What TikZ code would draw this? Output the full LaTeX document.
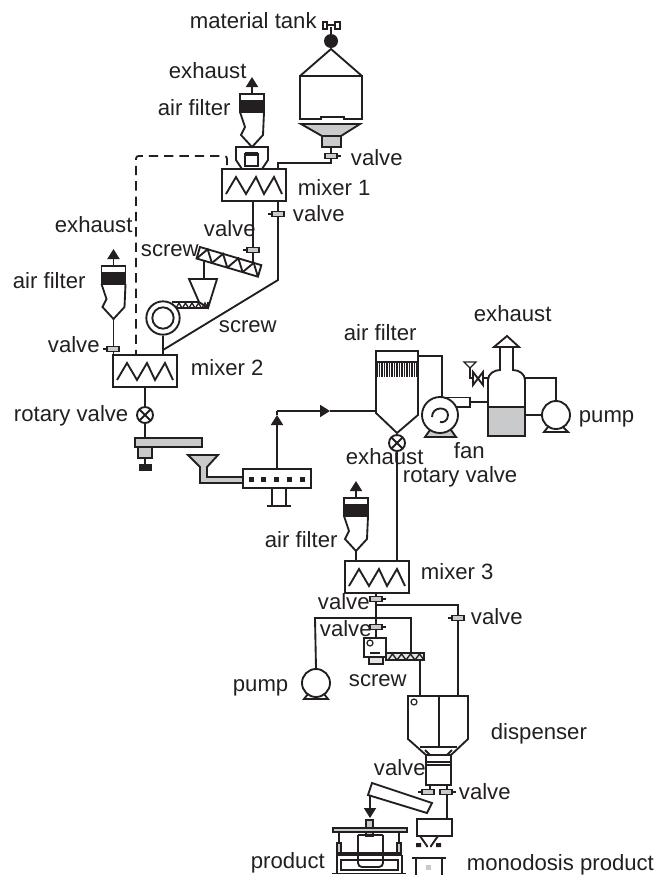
\documentclass[tikz,border=0pt]{standalone}
\usepackage{fontspec}
\setmainfont{Liberation Sans}
\usetikzlibrary{arrows.meta}
\definecolor{partgray}{HTML}{C8CACC}
\definecolor{inkblack}{HTML}{231F20}
\begin{document}
\begin{tikzpicture}
   [x=0.75pt, y=-0.75pt, line width=1.4pt, draw=inkblack, text=inkblack,
    lbl/.style={anchor=base west, inner sep=0pt, font=\fontsize{16.6}{18}\selectfont},
    mixer node/.style={rectangle, draw, minimum width=48pt, minimum height=24pt, inner sep=0pt},
    rotary node/.style={circle, draw, fill=white, minimum size=12pt, inner sep=0pt,
      path picture={\draw (path picture bounding box.north west) -- (path picture bounding box.south east)
        (path picture bounding box.north east) -- (path picture bounding box.south west);}},
    pump node/.style={circle, draw, fill=white, minimum size=21pt, inner sep=0pt},
    head/.style={-{Triangle[length=7.5pt,width=9pt]}},
    valve right/.pic={
      \draw (6,0) -- (10,0);
      \draw[fill=partgray] (-6,-2.5) rectangle (6,2.5);},
    valve left/.pic={
      \draw (-6,0) -- (-10,0);
      \draw[fill=partgray] (-6,-2.5) rectangle (6,2.5);},
    air filter/.pic={
      \draw[head] (0,0) -- (0,-17);
      \draw (-12,0) rectangle (12,7);
      \draw[fill=inkblack] (-12,7) rectangle (12,18);
      \draw (-12,18) -- (-7,33) -- (-11,41) -- (0,53) -- (11,41) -- (12,18);
      \coordinate (-tip) at (0,53);}]

   % frame of the page
   \useasboundingbox (0,0) rectangle (654,875);

   % ---------- material tank ----------
   \node[circle, fill=inkblack, minimum size=10.5pt, inner sep=0pt] (ball) at (331,41) {};
   \coordinate (apex) at (331,49);
   \draw (331,34) -- (331,27) (322,25) -- (341,25);
   \draw[fill=white, line width=1pt] (323,22) rectangle (327,29) (335,22) rectangle (340,29);
   \draw (ball) -- (apex);
   \draw (300,76) -- (apex) -- (362,76);
   \draw (300,76) -- (362,76) -- (362,119) -- (344,119) -- (344,117) -- (321,117) -- (321,119) -- (300,119) -- cycle;
   \draw[fill=partgray] (301,124) -- (360,124) -- (341,136) -- (322,136) -- cycle;
   \draw[fill=partgray] (322,136) rectangle (341,147);
   \coordinate (tank out) at (331,147);

   % ---------- mixer 1 and its hood ----------
   \node[mixer node] (m1) at (254,185) {};
   \node[mixer node] (m2) at (145,371) {};
   \node[mixer node] (m3) at (377,577) {};
   \foreach \m in {m1,m2,m3}
      \draw (\m.center) ++(-28,9) -- ++(10,-17) -- ++(10,17) -- ++(10,-17) -- ++(8,17) -- ++(10,-17) -- ++(8,17);

   \draw (242,169) -- (236,160) -- (236,147) -- (268,147) -- (268,160) -- (262,169);
   \draw (245,154) rectangle (258,166);
   \draw[line width=2.4pt] (245,154) -- (258,154);
   \pic (fa) at (252,94) {air filter};

   \coordinate (c1) at (278,163);
   \draw (tank out) -- (331,163) -- (c1) -- (c1 |- m1.north);
   \pic at (331,156) {valve right};

   % ---------- dashed return line ----------
   \coordinate (d1) at (227,165);
   \draw[dash pattern=on 7pt off 4.5pt, rounded corners=2pt] (d1) -- (227,156) -- (136,156) -- (136,355);

   % ---------- screw between mixer 1 and mixer 2 ----------
   \begin{scope}[shift={(200,247)}, rotate=-16.5]
      \draw (0,0) rectangle (64,12);
      \foreach \i in {0,...,3}
         \draw (16*\i,12) -- (16*\i+8,0) -- (16*\i+16,12);
   \end{scope}
   \coordinate (s1) at (253,263);
   \draw (253,201) -- (s1);
   \pic at (253,250) {valve left};

   \coordinate (bend) at (278,280);
   \coordinate (m2 in) at (163,350);
   \draw (278,201) -- (bend) -- (m2 in);
   \pic at (278,214) {valve left};

   \draw (204,261) -- (204,279);
   \draw (189,279) -- (217,279) -- (208,308) -- (199,302) -- cycle;
   \draw (172,302) -- (199,302) (172,308) -- (208,308) -- (208,302);
   \foreach \i in {0,1,2,3,4}
      \draw[line width=1pt] (176+6.5*\i,308) -- (179+6.5*\i,303) -- (182+6.5*\i,308);
   \node[circle, draw, fill=white, minimum size=25pt, inner sep=0pt] (feed) at (163,318) {};
   \node[circle, draw, minimum size=16pt, inner sep=0pt] (feed in) at (163,318) {};
   \draw (feed) -- (feed |- m2.north);

   % ---------- air filter on mixer 2 ----------
   \pic (fb) at (113.5,266) {air filter};
   \draw (fb-tip) -- (fb-tip |- m2.north);
   \pic at (113,349) {valve left};

   % ---------- rotary valve and conveyor ----------
   \node[rotary node] (rv1) at (145,415) {};
   \coordinate (bar) at (145,438);
   \draw (m2) -- (rv1);
   \draw (rv1) -- (bar);
   \draw[fill=partgray] (135,438) rectangle (202,447);
   \draw[fill=partgray] (138,447) rectangle (152,458);
   \draw (145,458) -- (145,465);
   \draw[fill=inkblack] (140,465) rectangle (151,470);

   \draw[fill=partgray] (188,455) -- (218,455) -- (207,467) -- (207,477) -- (243,477) -- (243,483) -- (200,483) -- (200,467) -- cycle;

   % ---------- extruder ----------
   \node[rectangle, draw, fill=white, minimum width=51pt, minimum height=14.25pt, inner sep=0pt] (ext) at (277,478.5) {};
   \foreach \x in {251,263,276,289,302}
      \fill[inkblack] (\x-2.5,476.5) rectangle (\x+2.5,481.5);
   \draw (272,488) -- (272,506) (286,488) -- (286,506) (267,506) -- (291,506);
   \coordinate (up) at (277,415);
   \coordinate (turn) at (277,411);
   \coordinate (arr) at (330,411);
   \coordinate (fc in) at (376,411);
   \draw[head] (ext.north -| up) -- (up);
   \draw (up) -- (turn);
   \draw[head] (turn) -- (arr);
   \draw (arr) -- (fc in);

   % ---------- big air filter ----------
   \foreach \x in {377,379.5,...,417}
      \draw[line width=0.9pt] (\x,362) -- (\x,377);
   \draw (376,351) rectangle (418,362);
   \draw (376,362) -- (376,413) -- (397,433) -- (418,415) -- (418,362);
   \node[rotary node] (rv2) at (397,443) {};
   \draw (rv2) -- (rv2 |- m3.north);

   % ---------- fan ----------
   \draw (418,356) -- (442,356) -- (442,397);
   \draw[fill=partgray] (430,430) -- (451,430) -- (456,437) -- (425,437) -- cycle;
   \node[circle, draw, fill=white, minimum size=27pt, inner sep=0pt] (fan) at (440,415) {};
   \draw (440,397.5) -- (470,397.5) -- (470,407) -- (456,407);
   \draw (432,417) .. controls (432,406) and (448,406) .. (448,415) .. controls (448,421) and (443,423) .. (440,422);
   \coordinate (fan out) at (470,402);

   % ---------- scrubber vessel ----------
   \fill[partgray] (488,407) rectangle (525,436);
   \draw (500,347) -- (500,370) .. controls (494,370) and (488,374) .. (488,380) -- (488,436) -- (525,436) -- (525,380) .. controls (525,374) and (519,370) .. (513,370) -- (513,347);
   \draw (488,407) -- (525,407);
   \draw (494,347) -- (507,336) -- (519,347) -- cycle;
   \draw (fan out) -- (488,402);
   \draw (473,372) -- (483,385) -- (483,372) -- (473,385) -- cycle;
   \draw (483,378) -- (488,378);
   \draw (473,378) -- (470,378) -- (470,367);
   \draw[line width=1pt] (464,362) -- (476,362) -- (470,368) -- cycle;

   \node[pump node] (p1) at (556,415) {};
   \draw (525,378) -- (556,378) -- (p1.north);
   \draw (525,415) -- (p1.west);
   \draw (548,427) -- (544,432) -- (568,432) -- (563,427);

   % ---------- mixer 3 ----------
   \pic (fc) at (356,498) {air filter};
   \draw (fc-tip) -- (fc-tip |- m3.north);

   \coordinate (j1) at (376,605);
   \coordinate (j2) at (376,618);
   \coordinate (box top) at (376,638);
   \draw (376,593) -- (box top);
   \draw (j1) -- (458,605) -- (458,696);
   \pic at (376,599) {valve right};
   \pic at (376,627) {valve right};
   \pic at (458,618) {valve left};

   \node[pump node] (p2) at (316,683) {};
   \draw (p2.north) -- (315,618) -- (411,618) -- (411,653);
   \draw (308,694) -- (304,699) -- (328,699) -- (324,694);

   \draw (364,638) rectangle (386,657);
   \node[circle, draw, line width=0.9pt, minimum size=4.5pt, inner sep=0pt] (hole) at (370,643) {};
   \draw (370,653) -- (380,653);
   \draw[fill=partgray!50] (369,657) rectangle (383,664);
   \draw[fill=partgray!50] (386,653) rectangle (424,660);
   \foreach \i in {0,1,2,3}
      \draw[line width=1pt] (388+9*\i,660) -- (392.5+9*\i,654) -- (397+9*\i,660);
   \draw (420,660) -- (420,696);

   % ---------- dispenser ----------
   \draw (408,696) -- (468,696) -- (468,739) -- (451,755) -- (426,755) -- (408,739) -- cycle;
   \draw (439,696) -- (439,747);
   \draw (420,747) -- (457,747);
   \draw (425,750) -- (430,755) (452,750) -- (447,755);
   \node[circle, draw, line width=0.9pt, minimum size=4.5pt, inner sep=0pt] (port) at (414,702) {};
   \draw (426,755) rectangle (451,785);
   \draw (426,762) -- (451,762) (426,765) -- (451,765);

   \draw (430,785) -- (430,790);
   \coordinate (dose in) at (447,819);
   \draw (447,785) -- (dose in);
   \pic at (428,792) {valve left};
   \pic at (446,792) {valve right};

   % ---------- tilted chute and press ----------
   \draw (372,783) -- (432,803) -- (427,813) -- (368,795) -- cycle;
   \draw[head] (370,795) -- (370,818);
   \draw[fill=partgray] (366,820) rectangle (373,828);
   \draw[fill=partgray] (333,828) rectangle (407,832);
   \draw[fill=partgray] (366,832) rectangle (373,836);
   \draw (339,832) -- (339,855) (399,832) -- (399,855);
   \draw[fill=partgray] (337,843) rectangle (341,855);
   \draw[fill=partgray] (397,843) rectangle (401,855);
   \draw[rounded corners=3pt] (358,835) -- (358,867) -- (383,867) -- (383,835);
   \draw (358,835) -- (383,835);
   \draw[line width=2.4pt] (337,854) -- (402,854);
   \draw (337,855) -- (337,874) (402,855) -- (402,874);
   \draw (341,860) rectangle (398,870);
   \draw (332,873.5) -- (406,873.5);

   % ---------- monodosis line ----------
   \draw (417,819) rectangle (452,836);
   \draw (420,836) -- (427,846) -- (427,847) (438,836) -- (431,846) -- (431,847);
   \fill[inkblack] (416,843) rectangle (421,847) (436,843) rectangle (441,847);
   \draw (412,858) -- (446,858) (416,858) -- (416,875) (442,858) -- (442,875);
   \fill[partgray] (426,865) rectangle (431,870);

   % ---------- labels ----------
   \node[lbl] (t tank) at (189,28) {material tank};
   \node[lbl] (t ex1) at (168,78) {exhaust};
   \node[lbl] (t af1) at (157,115) {air filter};
   \node[lbl] (t v1) at (350,165) {valve};
   \node[lbl] (t m1) at (297,195) {mixer 1};
   \node[lbl] (t v2) at (292,221) {valve};
   \node[lbl] (t ex2) at (54,232) {exhaust};
   \node[lbl] (t v3) at (203,236) {valve};
   \node[lbl] (t s1) at (140,256) {screw};
   \node[lbl] (t af2) at (12,288) {air filter};
   \node[lbl] (t v4) at (47,352) {valve};
   \node[lbl] (t s2) at (218,332) {screw};
   \node[lbl] (t m2) at (190,375) {mixer 2};
   \node[lbl] (t rv1) at (13,421) {rotary valve};
   \node[lbl] (t af3) at (343,340) {air filter};
   \node[lbl] (t ex3) at (473,321) {exhaust};
   \node[lbl] (t p1) at (578,422) {pump};
   \node[lbl] (t fan) at (453,458) {fan};
   \node[lbl] (t rv2) at (402,482) {rotary valve};
   \node[lbl] (t ex4) at (345,464) {exhaust};
   \node[lbl] (t af4) at (264,547) {air filter};
   \node[lbl] (t m3) at (420,579) {mixer 3};
   \node[lbl] (t v5) at (317,609) {valve};
   \node[lbl] (t v6) at (319,636) {valve};
   \node[lbl] (t v7) at (470,624) {valve};
   \node[lbl] (t p2) at (232,691) {pump};
   \node[lbl] (t s3) at (348,686) {screw};
   \node[lbl] (t disp) at (490,739) {dispenser};
   \node[lbl] (t v8) at (373,775) {valve};
   \node[lbl] (t v9) at (458,799) {valve};
   \node[lbl] (t prod) at (250,868) {product};
   \node[lbl] (t mono) at (466,870) {monodosis product};
\end{tikzpicture}
\end{document}
